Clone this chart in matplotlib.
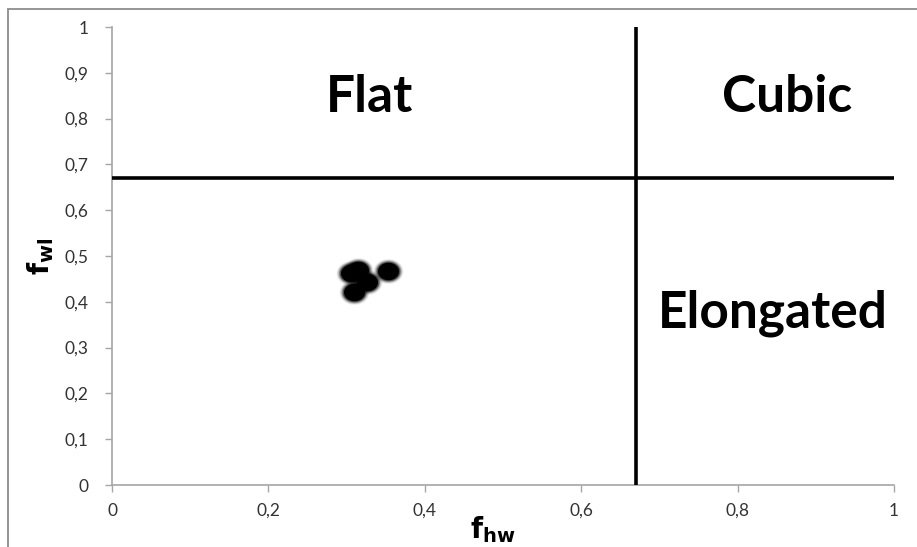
import numpy as np
import matplotlib
matplotlib.use("Agg")
import matplotlib.pyplot as plt
from matplotlib.path import Path
from matplotlib.patches import Rectangle

# Shape factors of the measured particles
f_hw = [0.306, 0.314, 0.326, 0.309, 0.353]
f_wl = [0.462, 0.470, 0.444, 0.421, 0.467]

# Class boundaries (2/3 rule)
boundary = 0.67
regions = ["Flat", "Cubic", "Elongated"]
region_pos = [(0.329, 0.845), (0.863, 0.845), (0.845, 0.375)]

x_ticks = [0, 0.2, 0.4, 0.6, 0.8, 1]
y_ticks = [0, 0.1, 0.2, 0.3, 0.4, 0.5, 0.6, 0.7, 0.8, 0.9, 1]

def comma(v):
    return ("%g" % v).replace(".", ",")

W, H = 917, 547
fig = plt.figure(figsize=(W / 100, H / 100), dpi=100)
fig.patch.set_facecolor("white")

# chart frame
fig.patches.append(Rectangle((8 / W, -0.1), 1.2, 1 - 9 / H + 0.1,
                             transform=fig.transFigure, fill=False,
                             edgecolor="#8c8c8c", linewidth=1.3))

ax = fig.add_axes([112 / W, 62 / H, 782 / W, 458 / H])
ax.set_xlim(0, 1)
ax.set_ylim(0, 1)

for s in ("top", "right"):
    ax.spines[s].set_visible(False)
for s in ("left", "bottom"):
    ax.spines[s].set_color("#a6a6a6")
    ax.spines[s].set_linewidth(1.2)

ax.set_xticks(x_ticks)
ax.set_yticks(y_ticks)
ax.set_xticklabels([comma(v) for v in x_ticks])
ax.set_yticklabels([comma(v) for v in y_ticks])
ax.tick_params(axis="both", direction="out", length=5, width=1,
               color="#a6a6a6", labelsize=12.5, labelcolor="#333333")
ax.tick_params(axis="x", pad=8)
ax.tick_params(axis="y", pad=12)
for lab in ax.get_xticklabels() + ax.get_yticklabels():
    lab.set_fontfamily(["Lato", "DejaVu Sans"])

# class boundary lines
ax.plot([boundary, boundary], [0, 1], color="black", linewidth=2.6,
        solid_capstyle="butt", zorder=3)
ax.plot([0, 1], [boundary, boundary], color="black", linewidth=2.6,
        solid_capstyle="butt", zorder=3)

for name, (tx, ty) in zip(regions, region_pos):
    ax.text(tx, ty, name, ha="center", va="center", fontsize=37,
            fontweight="bold", family=["Lato", "DejaVu Sans"], color="black")

# elliptical markers with a soft edge
t = np.linspace(0, 2 * np.pi, 60)
ellipse = Path(np.column_stack([1.2 * np.cos(t), np.sin(t)]), closed=True)
for size, alpha in [(460, 0.08), (400, 0.14), (340, 0.25), (290, 0.45)]:
    ax.scatter(f_hw, f_wl, s=size, marker=ellipse, color="black",
               alpha=alpha, linewidths=0, zorder=4)
ax.scatter(f_hw, f_wl, s=230, marker=ellipse, color="black",
           linewidths=0, zorder=5)

fig.text(493 / W, 1 - 538 / H, r"$\mathbf{f}_{\mathbf{hw}}$", fontsize=20,
         ha="center", va="baseline")
ax.set_ylabel(r"$\mathbf{f}_{\mathbf{wl}}$", fontsize=20, labelpad=6)

fig.savefig("out.png", dpi=100, facecolor="white")
